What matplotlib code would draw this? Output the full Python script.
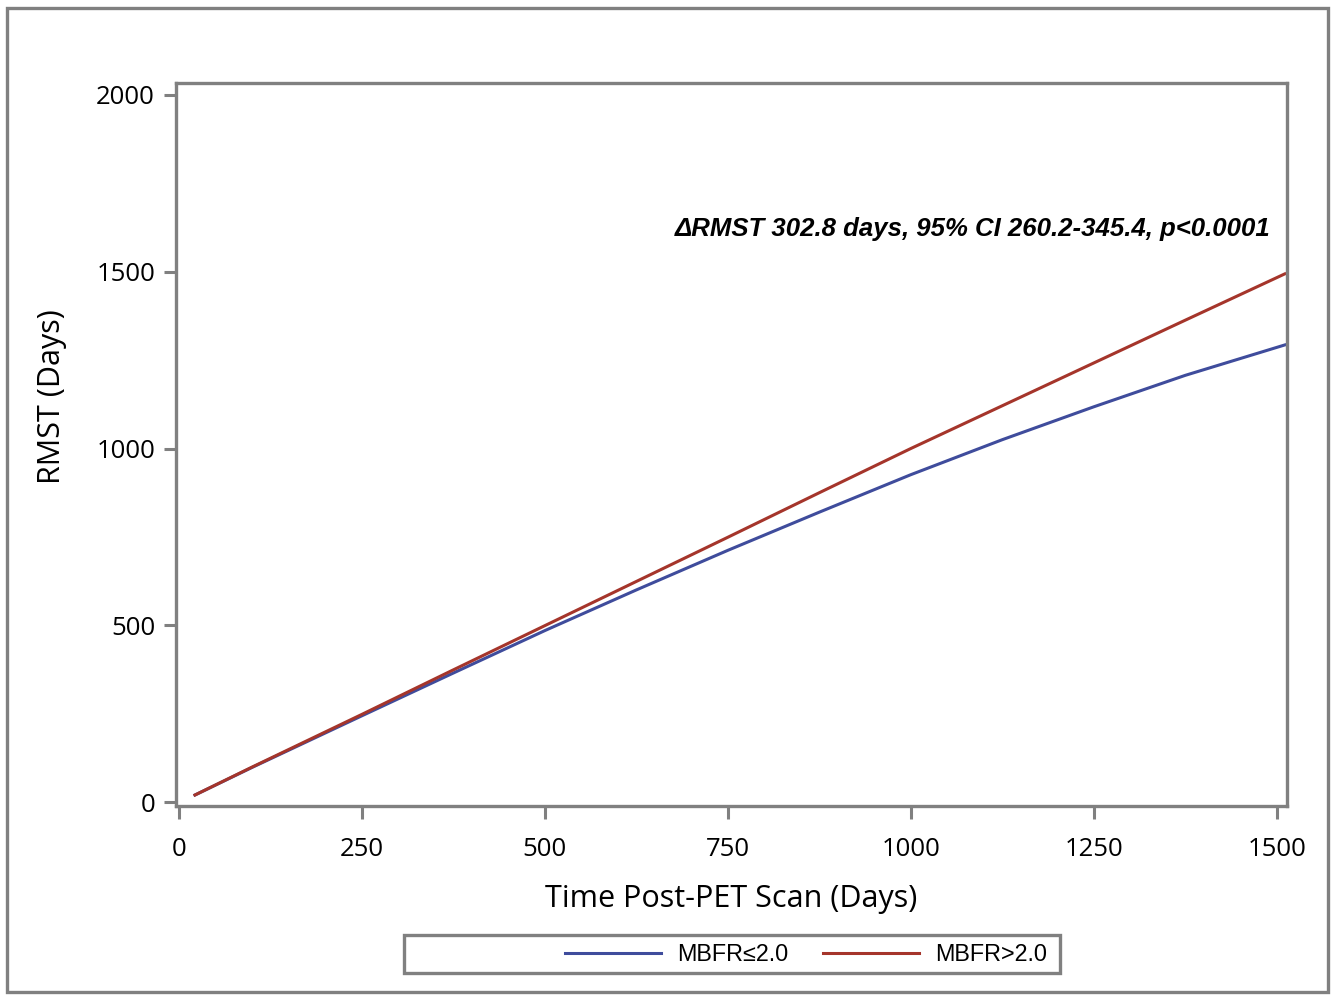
import matplotlib.pyplot as plt
from matplotlib.patches import Rectangle

# data (days)
days = [22, 100, 250, 375, 500, 625, 750, 875, 1000, 1125, 1250, 1375, 1511]
rmst_low = [20, 98, 244, 365, 485, 600, 712, 820, 926, 1025, 1118, 1207, 1293]
rmst_high = [20, 99, 248, 374, 499, 624, 749, 875, 1000, 1121, 1242, 1363, 1494]

series = ["MBFR\u22642.0", "MBFR>2.0"]
colors = ["#3F4C9C", "#A5352B"]
note = "\u0394RMST 302.8 days, 95% CI 260.2-345.4, p<0.0001"

gray = "#808080"

fig = plt.figure(figsize=(13.37, 9.96), dpi=100)
ax = fig.add_axes([0.1316, 0.1908, 0.831, 0.7259])

ax.plot(days, rmst_low, color=colors[0], lw=2.2, label=series[0])
ax.plot(days, rmst_high, color=colors[1], lw=2.2, label=series[1])

ax.set_xlim(-4, 1514)
ax.set_ylim(-11, 2034)
ax.set_xticks([0, 250, 500, 750, 1000, 1250, 1500])
ax.set_yticks([0, 500, 1000, 1500, 2000])

for s in ax.spines.values():
    s.set_color(gray)
    s.set_linewidth(2.4)
ax.tick_params(length=9, width=2.2, color=gray, labelsize=18.5)
ax.tick_params(axis="x", pad=13)
ax.tick_params(axis="y", pad=6)
for lab in ax.get_xticklabels() + ax.get_yticklabels():
    lab.set_fontfamily("Open Sans")

ax.set_xlabel("Time Post-PET Scan (Days)", fontsize=22, family="Open Sans", labelpad=16)
ax.set_ylabel("RMST (Days)", fontsize=22, family="Open Sans", labelpad=21)
ax.yaxis.label.set_y(0.566)

ax.text(0.985, 0.798, note, transform=ax.transAxes, ha="right", va="center",
        fontsize=18.5, fontweight="bold", fontstyle="italic", family="Liberation Sans")

# outer frame
fig.add_artist(Rectangle((0.005, 0.004), 0.988, 0.988, transform=fig.transFigure,
                         fill=False, edgecolor=gray, lw=2.4))
# legend box
fig.add_artist(Rectangle((404 / 1337, 1 - 973 / 996), 656 / 1337, 38 / 996,
                         transform=fig.transFigure, fill=False, edgecolor=gray, lw=2.4))

leg = fig.legend(loc="center", bbox_to_anchor=(0.603, 0.042), ncol=2, frameon=False,
                 prop={"family": "Liberation Sans", "size": 16.8}, handlelength=4.1,
                 columnspacing=1.5, handletextpad=0.7)

fig.savefig("out.png", dpi=100)
